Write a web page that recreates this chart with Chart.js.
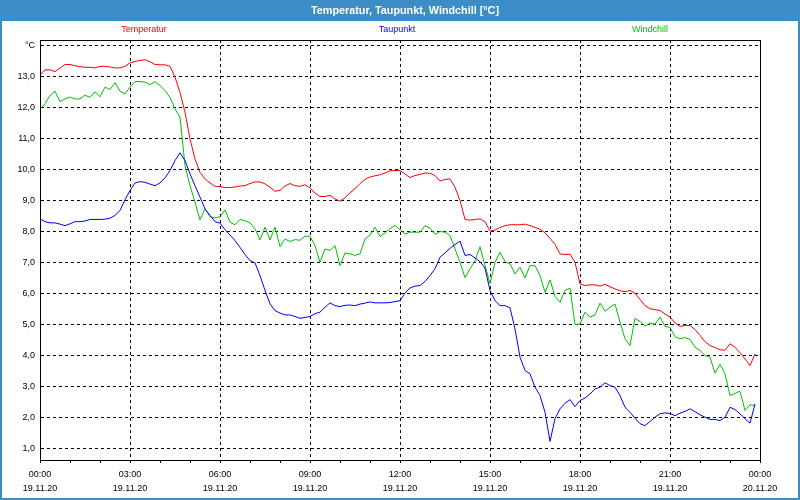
<!DOCTYPE html>
<html>
<head>
<meta charset="utf-8">
<script src="https://cdn.jsdelivr.net/npm/chart.js@4.4.0/dist/chart.umd.min.js"></script>
<style>
    html, body { margin: 0; padding: 0; background: #fff; }
    #wrap { width: 800px; height: 500px; }
</style>
</head>
<body>
<div id="wrap"><canvas id="myChart" width="800" height="500"></canvas></div>
<script>
// Values every 10 minutes, 19.11.20 00:00 .. 23:50
const chartTitle = 'Temperatur, Taupunkt, Windchill [°C]';
const seriesNames = ['Temperatur', 'Taupunkt', 'Windchill'];
const stepHours = 10 / 60;

const temperatur = [
    13.05, 13.22, 13.22, 13.16, 13.27, 13.39, 13.39, 13.35, 13.32, 13.30, 13.30, 13.28,
    13.33, 13.33, 13.31, 13.28, 13.28, 13.33, 13.44, 13.49, 13.52, 13.54, 13.48, 13.39,
    13.38, 13.38, 13.33, 12.98, 12.49, 11.85, 10.99, 10.34, 9.91, 9.70, 9.57, 9.46,
    9.45, 9.42, 9.42, 9.44, 9.47, 9.48, 9.55, 9.60, 9.60, 9.54, 9.43, 9.30,
    9.33, 9.47, 9.55, 9.48, 9.46, 9.51, 9.41, 9.24, 9.13, 9.13, 9.17, 9.05,
    8.98, 9.09, 9.25, 9.38, 9.55, 9.68, 9.76, 9.80, 9.83, 9.89, 9.96, 9.97,
    9.97, 9.86, 9.74, 9.81, 9.84, 9.89, 9.88, 9.81, 9.63, 9.68, 9.70, 9.43,
    9.00, 8.39, 8.37, 8.39, 8.41, 8.32, 8.02, 8.05, 8.13, 8.19, 8.22, 8.22,
    8.22, 8.24, 8.19, 8.13, 8.08, 7.96, 7.78, 7.59, 7.28, 7.26, 7.27, 7.01,
    6.31, 6.26, 6.28, 6.28, 6.24, 6.30, 6.22, 6.15, 6.09, 6.06, 6.10, 6.01,
    5.81, 5.61, 5.51, 5.48, 5.45, 5.34, 5.24, 5.05, 4.94, 4.97, 4.97, 4.84,
    4.65, 4.45, 4.32, 4.26, 4.19, 4.17, 4.38, 4.27, 4.09, 3.89, 3.68, 4.05
];

const taupunkt = [
    8.41, 8.32, 8.28, 8.28, 8.24, 8.19, 8.25, 8.32, 8.32, 8.34, 8.39, 8.39,
    8.39, 8.40, 8.43, 8.52, 8.68, 9.03, 9.32, 9.57, 9.61, 9.59, 9.53, 9.48,
    9.57, 9.73, 9.97, 10.29, 10.54, 10.29, 9.86, 9.48, 9.11, 8.73, 8.52, 8.32,
    8.27, 8.06, 7.89, 7.71, 7.49, 7.26, 7.06, 6.99, 6.58, 6.10, 5.67, 5.45,
    5.37, 5.31, 5.31, 5.26, 5.20, 5.23, 5.26, 5.35, 5.40, 5.56, 5.70, 5.61,
    5.58, 5.62, 5.63, 5.61, 5.66, 5.69, 5.73, 5.70, 5.70, 5.70, 5.71, 5.74,
    5.77, 6.02, 6.18, 6.24, 6.26, 6.39, 6.58, 6.80, 7.17, 7.31, 7.46, 7.58,
    7.69, 7.23, 7.26, 7.15, 7.03, 6.82, 6.10, 5.77, 5.61, 5.61, 5.54, 4.86,
    3.95, 3.52, 3.41, 2.98, 2.71, 2.17, 1.23, 1.96, 2.28, 2.46, 2.58, 2.35,
    2.55, 2.63, 2.76, 2.92, 2.98, 3.12, 3.03, 2.98, 2.71, 2.33, 2.17, 1.98,
    1.80, 1.74, 1.87, 2.01, 2.12, 2.15, 2.13, 2.06, 2.14, 2.20, 2.28, 2.19,
    2.09, 2.01, 1.94, 1.94, 1.90, 2.01, 2.33, 2.26, 2.12, 1.96, 1.82, 2.44
];

const windchill = [
    11.94, 12.12, 12.39, 12.53, 12.19, 12.28, 12.34, 12.28, 12.28, 12.40, 12.33, 12.51,
    12.35, 12.66, 12.58, 12.80, 12.53, 12.44, 12.66, 12.84, 12.84, 12.82, 12.74, 12.83,
    12.71, 12.55, 12.33, 11.96, 11.69, 10.13, 9.48, 8.95, 8.38, 8.73, 8.48, 8.44,
    8.48, 8.70, 8.30, 8.22, 8.39, 8.35, 8.28, 8.09, 7.73, 8.14, 7.73, 8.14,
    7.51, 7.76, 7.68, 7.74, 7.72, 7.85, 7.85, 7.55, 7.01, 7.44, 7.39, 7.55,
    6.90, 7.31, 7.28, 7.23, 7.28, 7.76, 7.89, 8.14, 7.84, 7.96, 8.09, 8.20,
    8.06, 7.92, 7.98, 7.98, 7.98, 8.19, 8.11, 7.91, 8.00, 7.98, 7.87, 7.44,
    7.01, 6.51, 6.80, 7.06, 7.51, 6.90, 6.33, 7.01, 7.33, 7.03, 6.96, 6.63,
    6.85, 6.51, 6.90, 6.90, 6.58, 6.04, 6.44, 5.91, 5.72, 6.10, 6.18, 5.00,
    5.02, 5.40, 5.24, 5.31, 5.69, 5.43, 5.56, 5.66, 5.08, 4.54, 4.32, 5.20,
    5.10, 4.95, 5.05, 5.01, 5.24, 4.94, 4.91, 4.61, 4.54, 4.58, 4.52, 4.27,
    4.16, 4.00, 3.95, 3.43, 3.72, 3.41, 2.71, 2.78, 2.85, 2.23, 2.41, 2.39
];

// x axis tick labels (every 3 hours)
const tickTimes = ['00:00', '03:00', '06:00', '09:00', '12:00', '15:00', '18:00', '21:00', '00:00'];
const tickDates = ['19.11.20', '19.11.20', '19.11.20', '19.11.20', '19.11.20', '19.11.20', '19.11.20', '19.11.20', '20.11.20'];

const FONT = 'Liberation Sans';

function toPoints(values) {
    return values.map((v, i) => ({ x: i * stepHours, y: v }));
}

// Frame, title bar, text legend and plot box
const framePlugin = {
    id: 'frame',
    beforeDraw(chart) {
        const ctx = chart.ctx;
        ctx.save();
        ctx.fillStyle = '#ffffff';
        ctx.fillRect(0, 0, chart.width, chart.height);
        ctx.fillStyle = '#3c8dc5';
        ctx.fillRect(0, 0, chart.width, 21);
        ctx.strokeStyle = '#3c8dc5';
        ctx.lineWidth = 2;
        ctx.strokeRect(1, 1, chart.width - 2, chart.height - 2);

        ctx.fillStyle = '#ffffff';
        ctx.font = 'bold 11px "' + FONT + '"';
        ctx.textAlign = 'center';
        ctx.textBaseline = 'middle';
        ctx.fillText(chartTitle, 405, 11, 188);

        const legendX = [144, 397, 650];
        ctx.font = '9px "' + FONT + '"';
        chart.data.datasets.forEach((ds, i) => {
            ctx.fillStyle = ds.borderColor;
            ctx.fillText(ds.label, legendX[i], 30);
        });
        ctx.restore();
    },
    afterDraw(chart) {
        const ctx = chart.ctx;
        const a = chart.chartArea;
        ctx.save();
        ctx.strokeStyle = '#000';
        ctx.lineWidth = 1;
        ctx.strokeRect(a.left + 0.5, a.top + 0.5, a.right - a.left, a.bottom - a.top);
        ctx.restore();
    }
};

const ctx = document.getElementById('myChart').getContext('2d');
window.myChart = new Chart(ctx, {
    type: 'line',
    data: {
        datasets: [
            { label: seriesNames[0], data: toPoints(temperatur), borderColor: '#ff0000' },
            { label: seriesNames[1], data: toPoints(taupunkt), borderColor: '#0000ff' },
            { label: seriesNames[2], data: toPoints(windchill), borderColor: '#00c000' },
        ],
    },
    options: {
        responsive: false,
        animation: false,
        devicePixelRatio: 1,
        layout: { padding: { top: 40, right: 40, bottom: 0, left: 0 } },
        elements: {
            line: { borderWidth: 1, tension: 0, fill: false },
            point: { radius: 0, hoverRadius: 0 },
        },
        plugins: {
            legend: { display: false },
            tooltip: { enabled: false },
            title: { display: false },
        },
        scales: {
            x: {
                type: 'linear',
                min: 0,
                max: 24,
                afterFit(scale) { scale.height = 40; },
                ticks: {
                    stepSize: 1,
                    autoSkip: false,
                    maxRotation: 0,
                    padding: 4,
                    color: '#000',
                    font: { family: FONT, size: 9, lineHeight: 1.62 },
                    callback: v => (v % 3 === 0) ? [tickTimes[v / 3], tickDates[v / 3]] : '',
                },
                grid: {
                    color: c => {
                        const v = c.tick ? c.tick.value : 0;
                        return (v % 3 === 0 && v > 0 && v < 24) ? '#000' : 'rgba(0,0,0,0)';
                    },
                    tickColor: '#000',
                    tickLength: 3,
                    lineWidth: 1,
                },
                border: { color: '#000', width: 1, dash: [3, 3] },
            },
            y: {
                type: 'linear',
                min: 0.63,
                max: 14.18,
                afterFit(scale) { scale.width = 40; },
                ticks: {
                    stepSize: 1,
                    includeBounds: false,
                    padding: 5,
                    color: '#000',
                    font: { family: FONT, size: 9 },
                    callback: v => v === 14 ? '°C' : v.toFixed(1).replace('.', ','),
                },
                grid: { color: '#000', lineWidth: 1, drawTicks: false },
                border: { color: '#000', width: 1, dash: [3, 3] },
            },
        },
    },
    plugins: [framePlugin],
});
</script>
</body>
</html>
